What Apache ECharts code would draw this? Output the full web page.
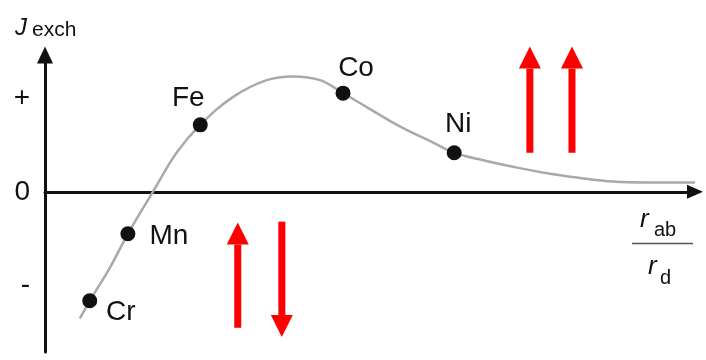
<!DOCTYPE html>
<html>
<head>
<meta charset="utf-8">
<script src="https://cdn.jsdelivr.net/npm/echarts@6/dist/echarts.min.js"></script>
<style>
  html, body { margin: 0; padding: 0; background: #fff; }
  #chart { width: 706px; height: 360px; }
</style>
</head>
<body>
<div id="chart"></div>
<script>
  // Bethe-Slater curve, schematic units (x: r_ab / r_d, y: J_exch)
  var curveX = [0.53, 0.68, 0.99, 1.26, 1.64, 2.01, 2.36, 2.86, 3.37, 3.77, 4.18, 4.53, 4.89, 5.40, 5.90, 6.22, 6.66, 7.11, 7.63, 8.13, 8.63, 9.15, 9.88]
  var curveY = [-1.36, -1.17, -0.81, -0.45, 0.00, 0.43, 0.72, 1.02, 1.20, 1.24, 1.20, 1.06, 0.91, 0.70, 0.53, 0.42, 0.34, 0.27, 0.20, 0.15, 0.11, 0.10, 0.10]

  var elements = ['Cr', 'Mn', 'Fe', 'Co', 'Ni']
  var elemX = [0.68, 1.26, 2.36, 4.53, 6.22]
  var elemY = [-1.17, -0.45, 0.72, 1.06, 0.42]

  // spin arrows: position, tail, head
  var arrowX = [2.93, 3.60, 7.37, 8.01]
  var arrowFrom = [-1.46, -0.32, 0.42, 0.42]
  var arrowTo = [-0.33, -1.56, 1.56, 1.56]

  var yTicks = [-1, 0, 1]
  var yTickLabels = ['-', '0', '+']

  var FONT = '"Liberation Sans", Arial, sans-serif'
  var INK = '#111'
  var RED = '#ff0000'

  // label offsets from the dot centre
  var labelShift = {
    Cr: [31, 11],
    Mn: [41, 3],
    Fe: [-12, -27],
    Co: [13, -25],
    Ni: [4, -28]
  }

  var curveData = curveX.map(function (x, i) { return [x, curveY[i]] })
  var elemData = elements.map(function (name, i) {
    return {
      name: name,
      value: [elemX[i], elemY[i]],
      label: { offset: labelShift[name] }
    }
  })
  var arrowData = arrowX.map(function (x, i) { return [x, arrowFrom[i], arrowTo[i]] })

  // plain text piece for axis titles
  var txt = function (s, x, y, size, italic) {
    return {
      type: 'text',
      x: x,
      y: y,
      style: {
        text: s,
        fill: INK,
        fontSize: size,
        fontStyle: italic ? 'italic' : 'normal',
        fontFamily: FONT,
        align: 'left',
        verticalAlign: 'middle'
      }
    }
  }

  var chart = echarts.init(document.getElementById('chart'), null, { renderer: 'canvas' })

  var option = {
    animation: false,
    backgroundColor: '#fff',
    textStyle: { fontFamily: FONT },
    grid: { left: 45, right: 11, top: 55, bottom: 8 },
    xAxis: {
      type: 'value',
      min: 0,
      max: 9.88,
      splitLine: { show: false },
      axisTick: { show: false },
      axisLabel: { show: false },
      axisLine: {
        onZero: true,
        lineStyle: { color: INK, width: 3 },
        symbol: ['none', 'triangle'],
        symbolSize: [14, 16]
      }
    },
    yAxis: {
      type: 'value',
      min: -1.72,
      max: 1.47,
      splitLine: { show: false },
      axisTick: { show: false },
      axisLabel: {
        customValues: yTicks,
        margin: 15,
        fontFamily: FONT,
        fontSize: 28,
        color: INK,
        formatter: function (v) {
          return yTickLabels[yTicks.indexOf(Math.round(v))]
        }
      },
      axisLine: {
        lineStyle: { color: INK, width: 3 },
        symbol: ['none', 'triangle'],
        symbolSize: [16, 17]
      }
    },
    graphic: [
      // J_exch
      txt('J', 15, 28, 24, true),
      txt('exch', 32, 30, 21, false),
      // r_ab / r_d
      txt('r', 640, 220, 26, true),
      txt('ab', 654, 230, 20, false),
      {
        type: 'line',
        shape: { x1: 632, y1: 243.5, x2: 693, y2: 243.5 },
        style: { stroke: '#555', lineWidth: 1.5 }
      },
      txt('r', 648, 267, 26, true),
      txt('d', 660, 278, 20, false)
    ],
    series: [
      {
        name: 'Bethe-Slater',
        type: 'line',
        data: curveData,
        smooth: 0.4,
        showSymbol: false,
        clip: false,
        lineStyle: { color: '#a9a9a9', width: 2.5 },
        z: 2
      },
      {
        name: 'elements',
        type: 'scatter',
        data: elemData,
        symbolSize: 15,
        itemStyle: { color: '#111', opacity: 1 },
        label: {
          show: true,
          position: 'inside',
          formatter: '{b}',
          fontFamily: FONT,
          fontSize: 28,
          color: INK
        },
        z: 3
      },
      {
        name: 'spins',
        type: 'custom',
        data: arrowData,
        renderItem: function (params, api) {
          var p0 = api.coord([api.value(0), api.value(1)])
          var p1 = api.coord([api.value(0), api.value(2)])
          var dir = p1[1] < p0[1] ? -1 : 1
          var head = 22
          var half = 11
          var shaft = 3.5
          var baseY = p1[1] - dir * head
          return {
            type: 'group',
            children: [
              {
                type: 'rect',
                shape: { x: p0[0] - shaft, y: Math.min(p0[1], baseY), width: shaft * 2, height: Math.abs(baseY - p0[1]) },
                style: { fill: RED }
              },
              {
                type: 'polygon',
                shape: { points: [[p1[0], p1[1]], [p1[0] - half, baseY], [p1[0] + half, baseY]] },
                style: { fill: RED }
              }
            ]
          }
        },
        z: 4
      }
    ]
  }

  chart.setOption(option)
</script>
</body>
</html>
